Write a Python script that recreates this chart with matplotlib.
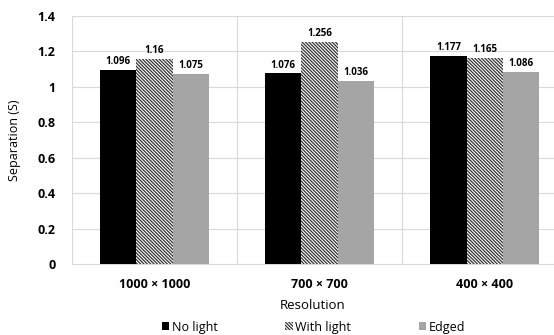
import numpy as np
import matplotlib
matplotlib.use("Agg")
import matplotlib.pyplot as plt

plt.rcParams['font.family'] = ['Open Sans', 'DejaVu Sans']
plt.rcParams['hatch.linewidth'] = 0.9
plt.rcParams['hatch.color'] = '#333333'

categories = ["1000 × 1000", "700 × 700", "400 × 400"]
no_light = [1.096, 1.076, 1.177]
with_light = [1.16, 1.256, 1.165]
edged = [1.075, 1.036, 1.086]
labels_no_light = ["1.096", "1.076", "1.177"]
labels_with_light = ["1.16", "1.256", "1.165"]
labels_edged = ["1.075", "1.036", "1.086"]

fig = plt.figure(figsize=(5.54, 3.35), dpi=100)
ax = fig.add_axes([0.130, 0.212, 0.87, 0.740])

x = np.arange(len(categories))
w = 0.22
b1 = ax.bar(x - w, no_light, w, color='black', label='No light', zorder=3)
b2 = ax.bar(x, with_light, w, color='white', edgecolor='#333333', hatch='\\' * 10,
            linewidth=0, label='With light', zorder=3)
b3 = ax.bar(x + w, edged, w, color='#a5a5a5', label='Edged', zorder=3)

for bars, labs in [(b1, labels_no_light), (b2, labels_with_light), (b3, labels_edged)]:
    for r, t in zip(bars, labs):
        ax.text(r.get_x() + r.get_width() / 2, r.get_height() + 0.015, t,
                ha='center', va='bottom', fontsize=7, fontweight='bold')

ax.set_ylim(0, 1.4)
ax.set_xlim(-0.5, 2.42)
ax.set_yticks(np.arange(0, 1.41, 0.2))
ax.set_yticklabels(["0", "0.2", "0.4", "0.6", "0.8", "1", "1.2", "1.4"],
                   fontsize=9, fontweight='bold')
ax.set_xticks(x)
ax.set_xticklabels(categories, fontsize=9, fontweight='bold')
ax.tick_params(axis='y', length=0, pad=12)
ax.tick_params(axis='x', length=0, pad=10)

ax.grid(axis='y', color='#d9d9d9', linewidth=0.8, zorder=0)
for v in [-0.5, 0.5, 1.5]:
    ax.axvline(v, color='#d9d9d9', linewidth=0.8, zorder=0)
for s in ['top', 'right', 'left']:
    ax.spines[s].set_visible(False)
ax.spines['bottom'].set_color('#d9d9d9')

ax.set_ylabel("Separation (S)", fontsize=9, labelpad=12)
ax.set_xlabel("Resolution", fontsize=9.5, labelpad=6)

fig.legend(handles=[b1, b2, b3], loc='lower center', bbox_to_anchor=(0.566, -0.03),
           ncol=3, frameon=False, fontsize=9, handlelength=0.6, handleheight=0.6,
           handletextpad=0.2, columnspacing=5.4)

fig.savefig("out.png", dpi=100)
